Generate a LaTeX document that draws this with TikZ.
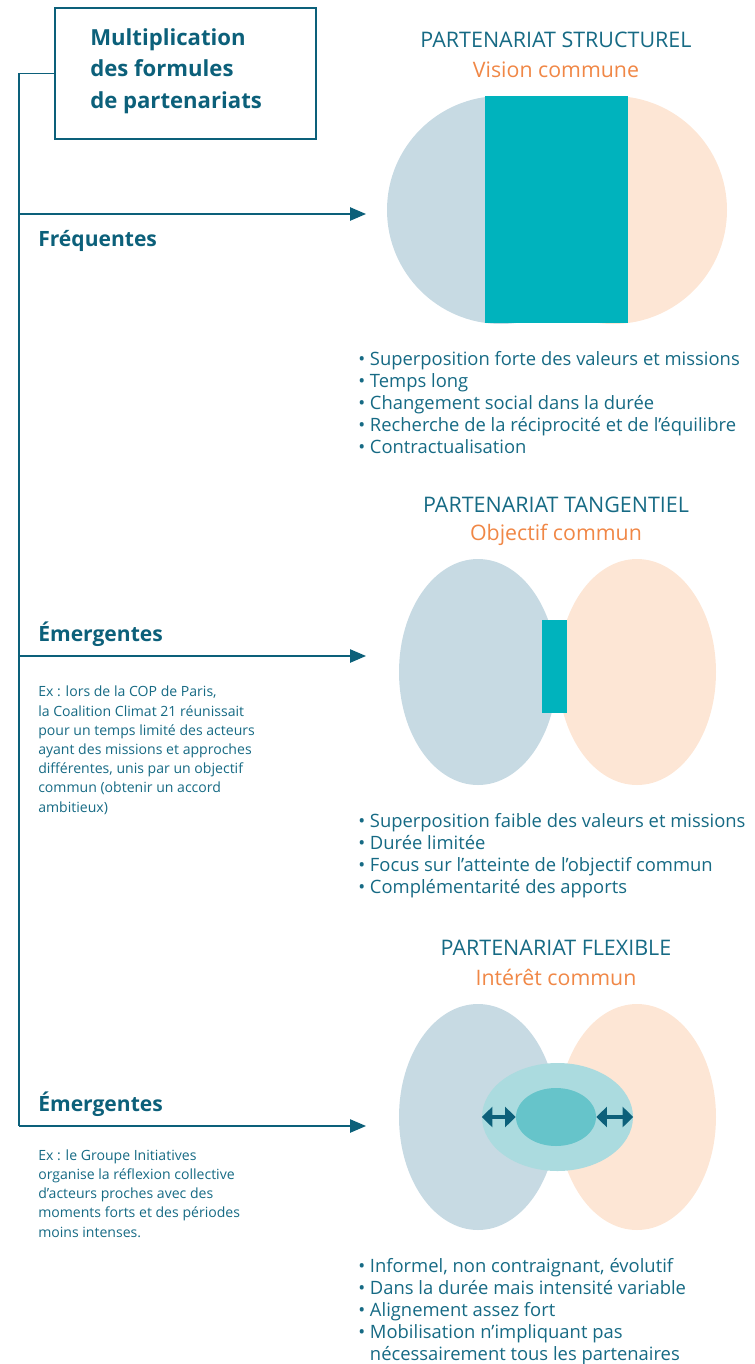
\documentclass[tikz,border=0pt]{standalone}
\usepackage{fontspec}
\setmainfont{Open Sans}
\usetikzlibrary{shapes.geometric,arrows.meta}
\definecolor{tealtxt}{RGB}{22,106,132}
\definecolor{darkteal}{RGB}{12,96,122}
\definecolor{orangetxt}{RGB}{240,135,70}
\definecolor{bluegray}{RGB}{199,218,227}
\definecolor{peach}{RGB}{253,230,213}
\definecolor{cyanteal}{RGB}{0,179,189}
\definecolor{midteal}{RGB}{171,219,223}
\definecolor{innerteal}{RGB}{102,196,202}
\tikzset{
  conn/.style={draw=darkteal,line width=1.1pt},
  arr/.style={conn,-{Triangle[length=12pt,width=10pt]}},
  blob/.style={ellipse,inner sep=0pt,draw=none},
  titletxt/.style={text=tealtxt,font=\fontsize{16.1}{18}\selectfont,anchor=base,inner sep=0pt},
  subtxt/.style={text=orangetxt,font=\fontsize{16}{18}\selectfont,anchor=base,inner sep=0pt},
  bullets/.style={text=tealtxt,font=\fontsize{13.8}{16.5}\selectfont,anchor=base west,align=left,inner sep=0pt},
  bold/.style={text=darkteal,font=\bfseries\fontsize{15.8}{18}\selectfont,anchor=base west,inner sep=0pt},
  extxt/.style={text=tealtxt,font=\fontsize{10.55}{14.4}\selectfont,anchor=base west,align=left,inner sep=0pt},
  dbl/.style={draw=darkteal,line width=3pt,{Triangle[length=8pt,width=15pt]}-{Triangle[length=8pt,width=15pt]}}
}
\begin{document}
\begin{tikzpicture}[x=0.75pt,y=-0.75pt]
\useasboundingbox (0,0) rectangle (755,1364);
% title box
\node[draw=darkteal,line width=0.9pt,minimum width=195.75pt,minimum height=98.25pt,inner sep=0pt] (box) at (185.5,73.5) {};
\node[text=darkteal,font=\bfseries\fontsize{16.6}{23.6}\selectfont,anchor=base west,align=left,inner sep=0pt] (boxtxt) at (90,108) {Multiplication\\des formules\\de partenariats};
% trunk
\coordinate (trunk) at (19,73.5);
\coordinate (j1) at (19,214);
\coordinate (j2) at (19,656);
\coordinate (j3) at (19,1126);
\coordinate (e1) at (366,214);
\coordinate (e2) at (366,656);
\coordinate (e3) at (366,1126);
\draw[conn] (box.west) -- (trunk) -- (j3);
\draw[arr] (j1) -- (e1);
\draw[arr] (j2) -- (e2);
\draw[arr] (j3) -- (e3);
\node[bold] (freq) at (38,246) {Fréquentes};
\node[bold] (emer1) at (38,641) {Émergentes};
\node[bold] (emer2) at (38,1111) {Émergentes};
\node[extxt] (ex1) at (38,812) {Ex : lors de la COP de Paris,\\la Coalition Climat 21 réunissait\\pour un temps limité des acteurs\\ayant des missions et approches\\différentes, unis par un objectif\\commun (obtenir un accord\\ambitieux)};
\node[extxt] (ex2) at (38,1237) {Ex : le Groupe Initiatives\\organise la réflexion collective\\d’acteurs proches avec des\\moments forts et des périodes\\moins intenses.};
% structurel
\node[titletxt] (t1) at (556,47) {PARTENARIAT STRUCTUREL};
\node[subtxt] (s1) at (556,77) {Vision commune};
\node[blob,fill=bluegray,minimum width=171pt,minimum height=171pt] (l1) at (501,210) {};
\node[blob,fill=peach,minimum width=171pt,minimum height=171pt] (r1) at (613,210) {};
\node[fill=cyanteal,inner sep=0pt,minimum width=107.25pt,minimum height=170.25pt] (c1) at (556.5,209.5) {};
\node[bullets] (b1) at (358,453) {• Superposition forte des valeurs et missions\\• Temps long\\• Changement social dans la durée\\• Recherche de la réciprocité et de l’équilibre\\• Contractualisation};
% tangentiel
\node[titletxt] (t2) at (556,512) {PARTENARIAT TANGENTIEL};
\node[subtxt] (s2) at (556,540) {Objectif commun};
\node[blob,fill=bluegray,minimum width=118.5pt,minimum height=169.5pt] (l2) at (478,672) {};
\node[blob,fill=peach,minimum width=118.5pt,minimum height=169.5pt] (r2) at (637,672) {};
\node[fill=cyanteal,inner sep=0pt,minimum width=18.75pt,minimum height=69.75pt] (c2) at (554.5,666.5) {};
\node[bullets] (b2) at (358,893) {• Superposition faible des valeurs et missions\\• Durée limitée\\• Focus sur l’atteinte de l’objectif commun\\• Complémentarité des apports};
% flexible
\node[titletxt] (t3) at (556,955) {PARTENARIAT FLEXIBLE};
\node[subtxt] (s3) at (556,985) {Intérêt commun};
\node[blob,fill=bluegray,minimum width=118.5pt,minimum height=169.5pt] (l3) at (478,1117) {};
\node[blob,fill=peach,minimum width=118.5pt,minimum height=169.5pt] (r3) at (637,1117) {};
\node[blob,fill=midteal,minimum width=113.25pt,minimum height=81pt] (m3) at (557.5,1117) {};
\node[blob,fill=innerteal,minimum width=60pt,minimum height=43.5pt] (c3) at (556,1117) {};
\draw[dbl] (m3.west) -- (c3.west);
\draw[dbl] (c3.east) -- (m3.east);
\node[bullets] (b3) at (358,1360) {• Informel, non contraignant, évolutif\\• Dans la durée mais intensité variable\\• Alignement assez fort\\• Mobilisation n’impliquant pas\\\phantom{• }nécessairement tous les partenaires};
\end{tikzpicture}
\end{document}
